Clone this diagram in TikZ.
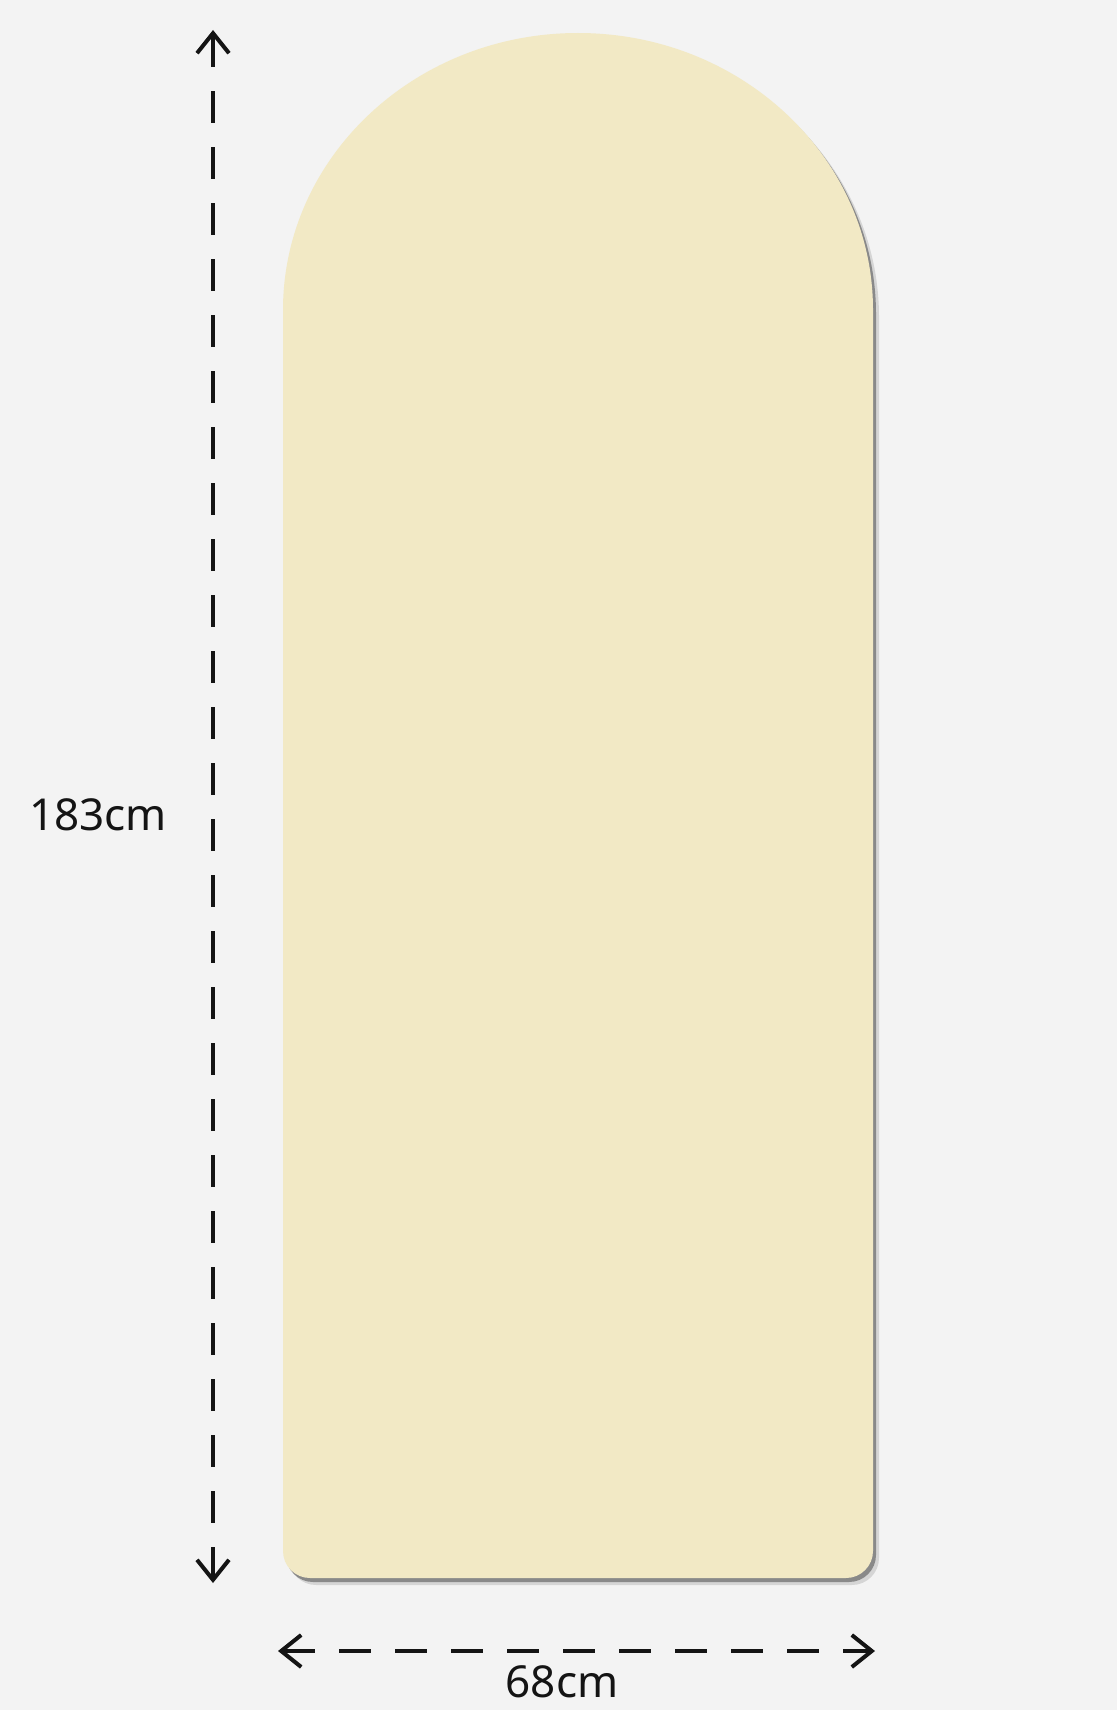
\documentclass[tikz,border=0pt]{standalone}
\usepackage{fontspec}
\setmainfont{Noto Sans}
\usetikzlibrary{arrows.meta}
\definecolor{bgc}{RGB}{243,243,243}
\definecolor{panel}{RGB}{242,233,197}
\definecolor{ink}{RGB}{20,20,20}
\tikzset{
  dimline/.style={line width=4pt, draw=ink, dash pattern=on 32pt off 24pt,
    {Straight Barb[length=20pt,width=32pt,line width=4pt]}-{Straight Barb[length=20pt,width=32pt,line width=4pt]}},
  dimlabel/.style={font=\fontsize{44}{48}\selectfont, text=ink, inner sep=0pt, anchor=base},
  panelpath/.style={fill=panel}
}
\newcommand{\archpath}{(283,310) -- (283,1551) arc[start angle=180,end angle=90,radius=27] -- (846,1578) arc[start angle=90,end angle=0,radius=27] -- (873,310) arc[start angle=0,end angle=-180,x radius=295,y radius=277] -- cycle}
\begin{document}
\begin{tikzpicture}[x=1pt,y=-1pt]
\useasboundingbox (0,0) rectangle (1117,1710);
\clip (0,0) rectangle (1117,1710);
\fill[bgc] (0,0) rectangle (1117,1710);
% shadow
\begin{scope}[shift={(6,7)}]
  \fill[black, opacity=0.12] \archpath;
\end{scope}
\begin{scope}[shift={(3,4)}]
  \fill[black!70, opacity=0.55] \archpath;
\end{scope}
% panel
\path[panelpath] \archpath;
% dimension end points
\coordinate (vt) at (213,30);
\coordinate (vb) at (213,1583);
\coordinate (hl) at (278,1651);
\coordinate (hr) at (875,1651);
\draw[dimline] (vt) -- (vb);
\draw[dimline] (hl) -- (hr);
\node[dimlabel] (hlab) at (98,830) {183cm};
\node[dimlabel] (wlab) at (562,1697) {68cm};
\end{tikzpicture}
\end{document}
